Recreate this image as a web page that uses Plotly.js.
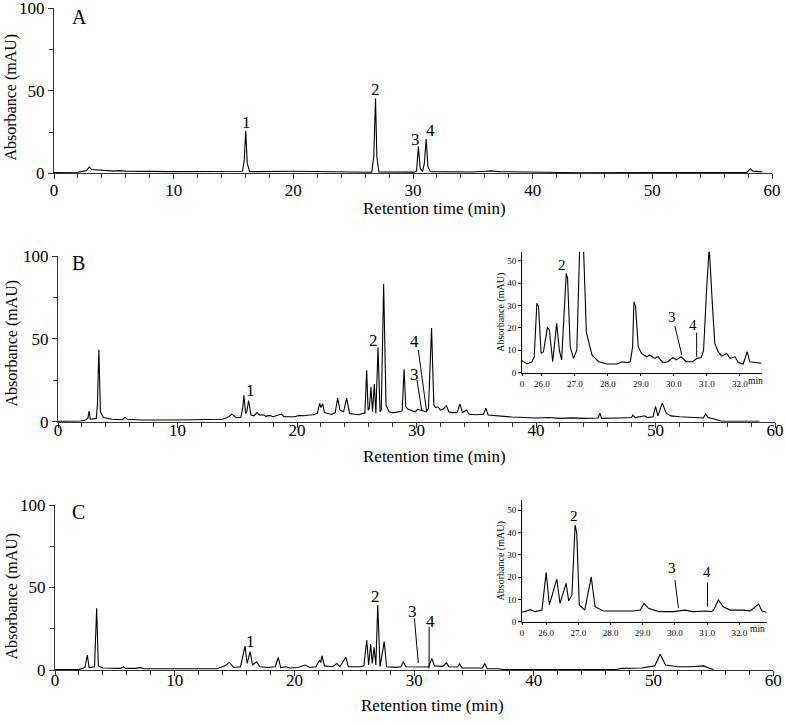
<!DOCTYPE html>
<html>
<head>
<meta charset="utf-8">
<script src="https://cdn.plot.ly/plotly-3.0.1.min.js"></script>
<style>html,body{margin:0;padding:0;background:#fff;}#chart{width:786px;height:725px;}</style>
</head>
<body>
<div id="chart"></div>
<script>
// ---------- Panel A : standard mixture ----------
const A_time = [0, 2.0, 2.7, 2.95, 3.15, 4.0, 5.0, 5.4, 6.0, 10, 15.0, 15.75, 15.9, 16.02, 16.15, 16.35, 20, 24, 26.55, 26.72, 26.87, 26.98, 27.15, 30.1, 30.3, 30.45, 30.6, 30.8, 30.95, 31.1, 31.25, 31.45, 35, 36.0, 36.5, 37.2, 42, 44, 50, 57.9, 58.2, 58.4, 59.0, 59.2];
const A_abs  = [0.5, 0.6, 1.6, 3.8, 2.3, 1.8, 1.3, 1.6, 1.3, 1.0, 0.8, 1.2, 8, 25.6, 6, 1.0, 1.2, 0.6, 0.6, 10, 45.4, 10, 0.8, 0.7, 1.5, 16.2, 3, 1.2, 6, 20.8, 4, 1.0, 0.8, 1.2, 1.5, 1.0, 0.6, 0.3, 0.4, 0.5, 2.8, 1.3, 1.0, 0.8];

// ---------- Panel B : sample 1 ----------
const B_time = [0, 1.8, 2.3, 2.5, 2.6, 2.7, 3.2, 3.3, 3.42, 3.55, 3.8, 4.5, 5.4, 5.6, 5.8, 7, 10, 12, 13.8, 14.3, 14.55, 14.9, 15.3, 15.45, 15.56, 15.7, 15.8, 15.95, 16.15, 16.4, 16.65, 16.9, 17.2, 17.4, 17.7, 18.0, 18.4, 18.7, 18.9, 19.4, 19.8, 20.2, 20.6, 21.0, 21.4, 21.7, 21.9, 22.0, 22.15, 22.3, 22.6, 22.9, 23.2, 23.4, 23.6, 23.9, 24.15, 24.4, 24.8, 25.2, 25.5, 25.68, 25.83, 25.95, 26.05, 26.19, 26.32, 26.47, 26.6, 26.78, 26.95, 27.05, 27.25, 27.45, 27.7, 28.0, 28.4, 28.8, 28.96, 29.1, 29.3, 29.6, 29.9, 30.1, 30.3, 30.5, 30.8, 31.0, 31.26, 31.45, 31.6, 31.8, 32.0, 32.2, 32.5, 32.7, 33.0, 33.4, 33.64, 33.85, 34.2, 34.4, 35.0, 35.6, 35.8, 36.0, 36.7, 37.0, 38, 40, 41.1, 42, 43, 44, 45.2, 45.35, 45.5, 47, 48, 48.1, 48.3, 49.1, 49.3, 49.8, 50.0, 50.2, 50.57, 50.9, 51.3, 52, 53, 54.0, 54.2, 54.4, 55, 55.5, 58.7];
const B_abs  = [0.2, 0.3, 1, 2, 6.4, 1.5, 2, 10, 43.4, 6, 2.5, 1.5, 1.2, 2.6, 1.5, 1.0, 1.0, 1.2, 1.5, 3, 4.6, 2.5, 2.5, 8, 15.9, 5, 6, 12.8, 4, 3.5, 5.5, 4, 4.2, 3.2, 3.8, 3.0, 3.8, 4.6, 3.0, 3.2, 3.0, 3.8, 3.6, 4.0, 4.2, 5.0, 11, 8.5, 10.8, 5.5, 4.8, 4.4, 5.5, 14.2, 7, 6, 14.2, 5, 4.5, 4.2, 5, 5, 31, 7, 8, 21, 6, 22.7, 5, 44.8, 6, 7, 83, 10, 6, 5.5, 5.8, 6.5, 31.7, 9, 7.5, 6.8, 6.0, 7.5, 7.2, 6.5, 6.0, 8, 56.6, 10, 8.5, 9, 7, 7.5, 9.6, 6, 5.5, 5.5, 10.8, 5.5, 7, 4.5, 4.2, 4.5, 8.2, 4, 3.5, 3.5, 2.8, 2.2, 2.5, 2.0, 2.3, 2.0, 2.2, 5.2, 2.0, 2.2, 2.5, 4, 2.5, 3.6, 2.5, 3, 9.2, 3.5, 11.2, 5, 3.5, 3, 2.5, 2.2, 4.6, 2.5, 1.5, 0.3, 0.3];

// B inset (25.4 - 32.7 min zoom)
const Bin_time = [25.4, 25.55, 25.7, 25.77, 25.85, 25.9, 25.98, 26.05, 26.17, 26.23, 26.33, 26.45, 26.53, 26.6, 26.67, 26.74, 26.78, 26.86, 26.96, 27.06, 27.2, 27.35, 27.52, 27.72, 27.98, 28.28, 28.43, 28.58, 28.68, 28.75, 28.79, 28.84, 28.92, 29.02, 29.17, 29.27, 29.42, 29.52, 29.67, 29.82, 29.97, 30.07, 30.22, 30.37, 30.57, 30.7, 30.83, 30.9, 30.99, 31.07, 31.17, 31.24, 31.34, 31.45, 31.6, 31.7, 31.85, 31.95, 32.1, 32.22, 32.3, 32.45, 32.66];
const Bin_abs  = [5.4, 3.9, 4.9, 7.1, 31, 29.5, 8.6, 9.4, 20.2, 19, 4.9, 22, 10.1, 5.7, 25, 44.3, 42.1, 11.6, 6.4, 10.1, 83, 18, 7.9, 4.9, 3.9, 3.9, 4.9, 4.5, 4.9, 11.6, 31.7, 29.5, 11.6, 8.6, 7.1, 7.9, 6.4, 7.1, 4.5, 4.9, 6.8, 5.7, 7.1, 4.9, 4.9, 6.4, 6.8, 10.1, 36.9, 56, 29.5, 13.1, 9.4, 7.4, 8.6, 6.4, 7.1, 4.5, 3.9, 9.4, 4.9, 4.5, 4.2];

// ---------- Panel C : sample 2 ----------
const C_time = [0, 2.0, 2.5, 2.7, 2.85, 3.3, 3.48, 3.62, 4.0, 5.5, 5.7, 5.9, 6.8, 7.1, 7.4, 10, 10.6, 12, 13.5, 14.2, 14.56, 14.95, 15.5, 15.87, 16.05, 16.3, 16.5, 16.85, 17.1, 17.8, 18.4, 18.65, 18.85, 19.3, 19.6, 20.3, 20.9, 21.3, 21.8, 22.1, 22.2, 22.3, 22.5, 23.2, 23.55, 23.8, 24.3, 24.5, 25.5, 25.8, 26.04, 26.2, 26.37, 26.5, 26.65, 26.8, 26.96, 27.15, 27.5, 27.7, 28.5, 28.9, 29.1, 29.3, 30.4, 31.2, 31.47, 31.7, 32.4, 32.7, 32.9, 33.6, 33.8, 34.0, 35.7, 35.9, 36.1, 36.5, 37, 37.5, 46.8, 47.3, 49, 50.1, 50.55, 51, 52, 53, 54.2, 54.5, 55];
const C_abs  = [0.2, 0.3, 1.5, 9.1, 1.5, 2, 37.4, 2.5, 1.2, 1.0, 2.0, 1.0, 1.0, 1.6, 0.8, 0.8, 1.0, 0.6, 0.8, 2.5, 4.6, 1.5, 2, 14.5, 4, 11.1, 3, 5, 2, 1.5, 2, 7.7, 1.5, 2, 1.2, 1.5, 3, 1.5, 2, 6, 4.5, 8.7, 2.5, 2, 4, 2, 7.7, 2, 2, 2.5, 18.2, 3, 15.8, 4, 13.7, 3, 39.4, 2, 17.2, 2, 1.6, 2, 5, 2, 2, 1.8, 7, 2.5, 2.2, 4.4, 2, 1.8, 3.6, 1.2, 1.2, 4, 0.8, 1.0, 0.8, 0.3, 0.2, 1.0, 1.2, 2.5, 9.5, 3, 2, 2, 2.5, 1.5, 0.3];

// C inset (25.25 - 32.85 min zoom)
const Cin_time = [25.25, 25.51, 25.66, 25.87, 26.0, 26.1, 26.33, 26.43, 26.62, 26.7, 26.8, 26.9, 26.95, 27.03, 27.2, 27.4, 27.52, 27.78, 28.3, 28.71, 28.92, 29.04, 29.18, 29.3, 29.5, 29.95, 30.3, 30.56, 30.98, 31.13, 31.2, 31.35, 31.5, 31.72, 32.13, 32.34, 32.6, 32.7, 32.85];
const Cin_abs  = [4.2, 5.4, 4.5, 5.2, 22.1, 7.5, 19.1, 8.2, 17.2, 9.3, 12, 43.3, 39.6, 7.5, 5.2, 20.1, 6.7, 4.8, 4.8, 4.8, 5.2, 8.2, 6, 5.5, 4.5, 4.5, 5.2, 4.5, 4.8, 4.5, 5.2, 9.7, 6.7, 5.2, 5.2, 4.8, 7.9, 4.8, 4.2];

// tick labels
const mainXTicks = [0, 10, 20, 30, 40, 50, 60];
const mainYTicks = [0, 50, 100];
const insetXTickText = ['0', '26.0', '27.0', '28.0', '29.0', '30.0', '31.0', '32.0'];
const insetYTicks = [0, 10, 20, 30, 40, 50];
const panelLetters = ['A', 'B', 'C'];
const xTitle = 'Retention time (min)';
const yTitle = 'Absorbance (mAU)';
const insetUnit = 'min';

const W = 786, H = 725;
const FONT = 'Liberation Serif';
const AX = '#333';
const px = (a, b) => [a / W, b / W];
const py = (top, bottom) => [1 - bottom / H, 1 - top / H];

function tr(x, y, xa, ya) {
  return {x: x, y: y, xaxis: xa, yaxis: ya, type: 'scatter', mode: 'lines',
          line: {color: '#000', width: 1.1}, hoverinfo: 'skip'};
}
const data = [
  tr(A_time, A_abs, 'x', 'y'),
  tr(B_time, B_abs, 'x2', 'y2'),
  tr(Bin_time, Bin_abs, 'x3', 'y3'),
  tr(C_time, C_abs, 'x4', 'y4'),
  tr(Cin_time, Cin_abs, 'x5', 'y5')
];

function mainX(domain, anchor, standoff) {
  return {domain: domain, anchor: anchor, range: [0, 60], tickvals: mainXTicks,
    showgrid: false, zeroline: false, showline: true, linecolor: AX, linewidth: 1,
    ticks: 'outside', ticklen: 5, tickcolor: AX, tickwidth: 1,
    minor: {dtick: 2, tick0: 0, ticks: 'outside', ticklen: 4, tickcolor: AX, showgrid: false},
    tickfont: {family: FONT, size: 17, color: '#000'}, ticklabelstandoff: standoff,
    ticklabeloverflow: 'allow', fixedrange: true};
}
function mainY(domain, anchor) {
  return {domain: domain, anchor: anchor, range: [0, 100], tickvals: mainYTicks,
    showgrid: false, zeroline: false, showline: true, linecolor: AX, linewidth: 1,
    ticks: 'outside', ticklen: 5, tickcolor: AX, tickwidth: 1,
    minor: {dtick: 25, tick0: 0, ticks: 'outside', ticklen: 4, tickcolor: AX, showgrid: false},
    tickfont: {family: FONT, size: 17, color: '#000'}, ticklabeloverflow: 'allow',
    fixedrange: true};
}
function insetX(domain, anchor, r) {
  return {domain: domain, anchor: anchor, range: r,
    tickvals: [r[0], 26, 27, 28, 29, 30, 31, 32], ticktext: insetXTickText,
    tickangle: 0, ticklabeloverflow: 'allow',
    showgrid: false, zeroline: false, showline: true, linecolor: '#000', linewidth: 1,
    ticks: 'outside', ticklen: 2, tickcolor: '#000',
    tickfont: {family: FONT, size: 9, color: '#000'}, fixedrange: true};
}
function insetY(domain, anchor, r) {
  return {domain: domain, anchor: anchor, range: r, tickvals: insetYTicks,
    showgrid: false, zeroline: false, showline: true, linecolor: '#000', linewidth: 1,
    ticks: 'outside', ticklen: 3, tickcolor: '#000',
    tickfont: {family: FONT, size: 9, color: '#000'},
    title: {text: yTitle, font: {family: FONT, size: 10, color: '#000'}, standoff: 0},
    fixedrange: true};
}

const layout = {
  width: W, height: H, margin: {l: 0, r: 0, t: 0, b: 0},
  paper_bgcolor: '#fff', plot_bgcolor: 'rgba(0,0,0,0)', showlegend: false,
  font: {family: FONT, color: '#000'},
  xaxis: mainX(px(54, 772), 'y', -4),
  yaxis: mainY(py(8.3, 173.3), 'x'),
  xaxis2: mainX(px(58, 775), 'y2', -12),
  yaxis2: mainY(py(256, 421.7), 'x2'),
  xaxis3: insetX(px(522, 761.7), 'y3', [25.4, 32.66]),
  yaxis3: insetY(py(251.7, 372.7), 'x3', [0, 54]),
  xaxis4: mainX(px(55, 773.3), 'y4', -10),
  yaxis4: mainY(py(505, 670), 'x4'),
  xaxis5: insetX(px(522, 766.7), 'y5', [25.25, 32.85]),
  yaxis5: insetY(py(500, 621.7), 'x5', [0, 54.5]),
  annotations: [],
  shapes: []
};

function lab(text, x, y, xr, yr, size) {
  layout.annotations.push({text: text, x: x, y: y, xref: xr, yref: yr, showarrow: false,
    font: {family: FONT, size: size, color: '#000'}, xanchor: 'center', yanchor: 'middle'});
}
function ptr(x0, y0, x1, y1, xr, yr) {
  layout.shapes.push({type: 'line', x0: x0, y0: y0, x1: x1, y1: y1, xref: xr, yref: yr,
    line: {color: '#000', width: 1}});
}
function paperText(text, cx, cy, size, angle) {
  layout.annotations.push({text: text, x: cx / W, y: 1 - cy / H, xref: 'paper', yref: 'paper',
    showarrow: false, xanchor: 'center', yanchor: 'middle', textangle: angle || 0,
    font: {family: FONT, size: size, color: '#000'}});
}
// axis titles of the three main panels
paperText(xTitle, 434, 209, 17); paperText(yTitle, 10.5, 97, 16, -90);
paperText(xTitle, 434, 456, 17); paperText(yTitle, 11.5, 343, 16, -90);
paperText(xTitle, 432, 705, 17); paperText(yTitle, 11.5, 596, 16, -90);

// panel letters
lab(panelLetters[0], 2.15, 94.7, 'x', 'y', 20);
lab(panelLetters[1], 1.7, 95.6, 'x2', 'y2', 20);
lab(panelLetters[2], 1.95, 95.9, 'x4', 'y4', 20);

// A peak labels
lab('1', 16.1, 31, 'x', 'y', 17);
lab('2', 26.9, 50.5, 'x', 'y', 17);
lab('3', 30.2, 20.7, 'x', 'y', 17);
lab('4', 31.5, 26.2, 'x', 'y', 17);

// B peak labels
lab('1', 16.07, 19.1, 'x2', 'y2', 17);
lab('2', 26.4, 49.3, 'x2', 'y2', 17);
lab('3', 29.8, 28.2, 'x2', 'y2', 17);
lab('4', 29.87, 48.3, 'x2', 'y2', 17);
ptr(30.04, 25.2, 30.43, 7.1, 'x2', 'y2');
ptr(30.15, 43.3, 30.85, 6, 'x2', 'y2');

// B inset labels
lab('2', 26.6, 48.1, 'x3', 'y3', 15);
lab('3', 29.93, 25, 'x3', 'y3', 15);
lab('4', 30.59, 21.3, 'x3', 'y3', 15);
ptr(30.03, 20.8, 30.24, 7.9, 'x3', 'y3');
ptr(30.69, 17.9, 30.69, 7.1, 'x3', 'y3');

// C peak labels
lab('1', 16.35, 17.2, 'x4', 'y4', 17);
lab('2', 26.8, 44.4, 'x4', 'y4', 17);
lab('3', 29.9, 35.3, 'x4', 'y4', 17);
lab('4', 31.39, 29.3, 'x4', 'y4', 17);
ptr(30.02, 31.3, 30.35, 4.1, 'x4', 'y4');
ptr(31.25, 26.2, 31.25, 1, 'x4', 'y4');

// C inset labels
lab('2', 26.85, 47.5, 'x5', 'y5', 15);
lab('3', 29.9, 23.9, 'x5', 'y5', 15);
lab('4', 30.99, 22.4, 'x5', 'y5', 15);
ptr(30.0, 18.7, 30.11, 6, 'x5', 'y5');
ptr(31.01, 17.6, 31.01, 6.7, 'x5', 'y5');

// "min" unit labels at the right end of each inset time axis (drawn last, on top)
paperText(insetUnit, 755, 381, 9.5);
paperText(insetUnit, 757, 629, 9.5);

Plotly.newPlot('chart', data, layout, {staticPlot: true, displayModeBar: false});
</script>
</body>
</html>
